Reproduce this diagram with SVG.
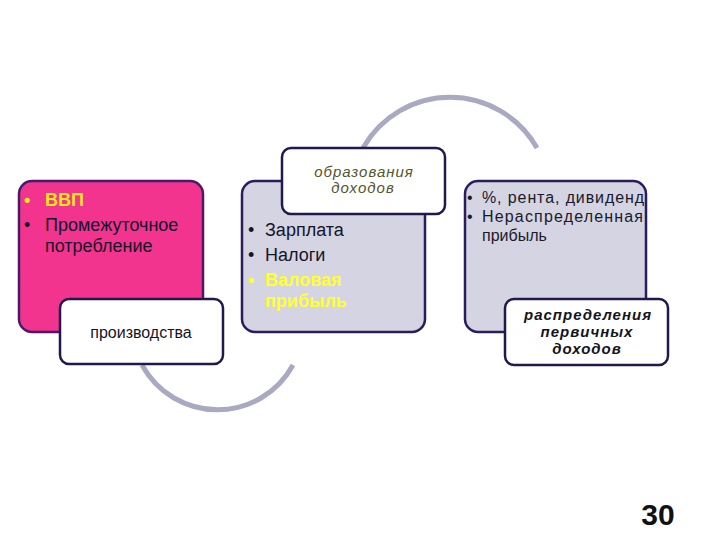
<svg xmlns="http://www.w3.org/2000/svg" width="720" height="540" viewBox="0 0 720 540">
<style>
.arc{fill:none;stroke:#a9a9c1;stroke-width:5}
.big{stroke:#2b1d5c;stroke-width:2.5}
.pink{fill:#f2348f;stroke:#4a1a6a}
.lav{fill:#d4d4e3}
.lbl{fill:#ffffff;stroke:#22184e;stroke-width:2.5}
text{font-family:"Liberation Sans",Arial,sans-serif}
.t18{font-size:18px;fill:#141428}
.yel{font-size:18px;font-weight:bold;fill:#ffe81a}
.yel2{font-size:18px;font-weight:bold;fill:#ffff33}
.t15{font-size:16px;fill:#1a1a2a}
.olive{font-size:15px;font-style:italic;fill:#55552a;letter-spacing:1px}
.bi{font-size:15px;font-style:italic;font-weight:bold;fill:#141420;letter-spacing:1px}
</style>
<rect width="720" height="540" fill="#ffffff"/>
<g id="connectors">
<path class="arc" d="M142,365 A86,86 0 0,0 293,365"/>
<path class="arc" d="M363,148 A100,100 0 0,1 537,148"/>
</g>
<g id="box1">
<rect class="big pink" x="19" y="181" width="184" height="151" rx="13"/>
<text class="yel" x="24" y="206">•</text>
<text class="yel" x="45" y="206">ВВП</text>
<text class="t18" x="24" y="231">•</text>
<text class="t18" x="45" y="231">Промежуточное</text>
<text class="t18" x="45" y="252">потребление</text>
</g>
<g id="label1">
<rect class="lbl" x="60" y="299" width="163" height="65" rx="9"/>
<text class="t18" x="141" y="338" text-anchor="middle" style="font-size:16px">производства</text>
</g>
<g id="box2">
<rect class="big lav" x="242" y="181" width="183" height="151" rx="13"/>
<text class="t18" x="248" y="236">•</text>
<text class="t18" x="265" y="236">Зарплата</text>
<text class="t18" x="248" y="261">•</text>
<text class="t18" x="265" y="261">Налоги</text>
<text class="yel2" x="248" y="286">•</text>
<text class="yel2" x="265" y="286">Валовая</text>
<text class="yel2" x="265" y="307">прибыль</text>
</g>
<g id="label2">
<rect class="lbl" x="282" y="148" width="163" height="66" rx="9"/>
<text class="olive" x="364" y="177" text-anchor="middle">образования</text>
<text class="olive" x="363" y="193" text-anchor="middle">доходов</text>
</g>
<g id="box3">
<rect class="big lav" x="465" y="181" width="181" height="151" rx="13"/>
<text class="t15" x="467" y="203">•</text>
<text class="t15" x="482" y="203" textLength="162" lengthAdjust="spacing">%, рента, дивиденд</text>
<text class="t15" x="467" y="222">•</text>
<text class="t15" x="482" y="222" textLength="161" lengthAdjust="spacing">Нераспределенная</text>
<text class="t15" x="482" y="241">прибыль</text>
</g>
<g id="label3">
<rect class="lbl" x="505" y="299" width="163" height="66" rx="9"/>
<text class="bi" x="588" y="320" text-anchor="middle">распределения</text>
<text class="bi" x="587" y="337" text-anchor="middle">первичных</text>
<text class="bi" x="587" y="354" text-anchor="middle">доходов</text>
</g>
<text x="658" y="525" text-anchor="middle" style="font-size:30px;font-weight:bold;fill:#111">30</text>
</svg>
